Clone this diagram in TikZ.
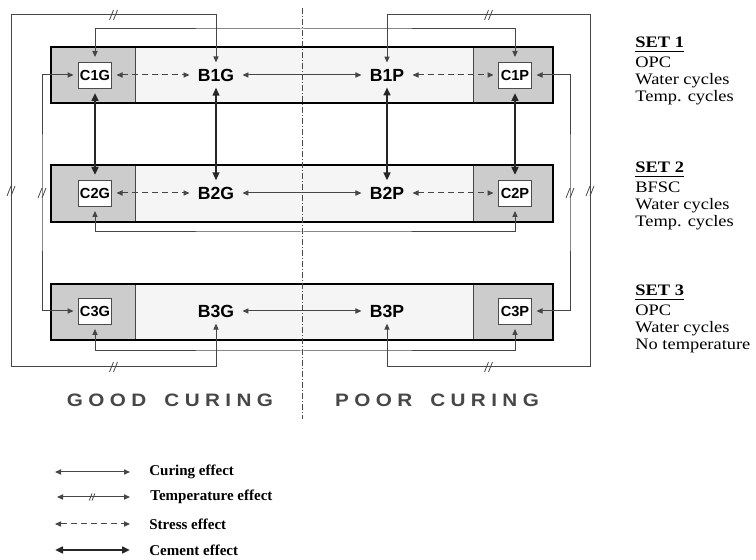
\documentclass[tikz,border=0pt]{standalone}
\usepackage{fontspec}
\setmainfont{Liberation Serif}
\setsansfont{Liberation Sans}
\newfontfamily\setfont[FakeStretch=1.15]{Liberation Serif}
\newfontfamily\curefont[FakeStretch=1.15,LetterSpace=30]{Liberation Sans}
\usetikzlibrary{arrows.meta}
\definecolor{setgray}{RGB}{204,204,204}
\definecolor{setpale}{RGB}{245,245,245}
\definecolor{linkgray}{RGB}{70,70,70}

\begin{document}
\begin{tikzpicture}[x=0.5pt,y=-0.5pt,
  curing/.style={linkgray,line width=0.5pt,
    {Triangle[length=3pt,width=2.6pt]}-{Triangle[length=3pt,width=2.6pt]}},
  temp/.style={curing},
  stress/.style={curing,dash pattern=on 3pt off 2pt},
  cement/.style={black!85,line width=1.1pt,
    {Triangle[length=4pt,width=3.4pt]}-{Triangle[length=4pt,width=3.4pt]}},
  cbox/.style={draw=black!70,fill=white,line width=0.4pt,minimum width=16.5pt,
    minimum height=13pt,inner sep=0.5pt,outer sep=2.5pt,
    font=\sffamily\bfseries\fontsize{7.3}{8}\selectfont},
  bnode/.style={inner xsep=4pt,inner ysep=3pt,
    font=\sffamily\bfseries\fontsize{8.8}{9}\selectfont},
  setlabel/.style={anchor=north west,inner sep=0pt,align=left,
    font=\setfont\fontsize{8}{8.6}\selectfont},
  legtext/.style={anchor=west,inner sep=0pt,
    font=\bfseries\fontsize{7.5}{8}\selectfont},
  curelabel/.style={text=black!72,font=\curefont\bfseries\fontsize{9}{10}\selectfont},
  slash/.pic={\draw[-,solid,linkgray,line width=0.4pt] (-4,5) -- (0,-5) (0,5) -- (4,-5);}]
  \useasboundingbox (0,0) rectangle (756,560);

  \foreach \t/\b in {47/103,165/222,284/340}{
    \fill[setpale] (51,\t) rectangle (553,\b);
    \fill[setgray] (51,\t) rectangle (135,\b) (473,\t) rectangle (553,\b);
    \draw[linkgray,line width=0.4pt] (135,\t) -- (135,\b) (473,\t) -- (473,\b);
    \draw[line width=1.2pt] (51,\t) rectangle (553,\b);
  }
  \draw[black!70,line width=0.4pt,dash pattern=on 3pt off 1pt on 0.5pt off 1pt] (302,8) -- (302,419);

  \node[cbox] (C1G) at (95,75) {C1G};
  \node[cbox] (C2G) at (95,193) {C2G};
  \node[cbox] (C3G) at (95,311) {C3G};
  \node[cbox] (C1P) at (515,75) {C1P};
  \node[cbox] (C2P) at (515,193) {C2P};
  \node[cbox] (C3P) at (515,311) {C3P};
  \node[bnode] (B1G) at (216,75) {B1G};
  \node[bnode] (B2G) at (216,193) {B2G};
  \node[bnode] (B3G) at (216,311) {B3G};
  \node[bnode] (B1P) at (387,75) {B1P};
  \node[bnode] (B2P) at (387,193) {B2P};
  \node[bnode] (B3P) at (387,311) {B3P};

  \draw[stress] (C1G) -- (B1G);
  \draw[stress] (B1P) -- (C1P);
  \draw[stress] (C2G) -- (B2G);
  \draw[stress] (B2P) -- (C2P);
  \draw[curing] (B1G) -- (B1P);
  \draw[curing] (B2G) -- (B2P);
  \draw[curing] (B3G) -- (B3P);
  \draw[cement] (C1G) -- (C2G);
  \draw[cement,line width=0.7pt] (B1G) -- (B2G);
  \draw[cement] (B1P) -- (B2P);
  \draw[cement] (C1P) -- (C2P);
  \draw[curing] (C1G.north) |- (302,29) -| (C1P.north);
  \draw[curing] (C2G.south) |- (302,232) -| (C2P.south);
  \draw[curing] (C3G.south) |- (302,351) -| (C3P.south);
  \draw[temp] (B1G.north) |- (11,15) pic[pos=.75]{slash} -- (11,367) pic[pos=.5]{slash}
    -| (B3G.south) pic[pos=.25]{slash};
  \draw[temp] (B1P.north) |- (590,15) pic[pos=.75]{slash} -- (590,367) pic[pos=.5]{slash}
    -| (B3P.south) pic[pos=.25]{slash};
  \draw[temp] (C1G.west) -| (42,193) pic{slash} |- (C3G.west);
  \draw[temp] (C1P.east) -| (570,193) pic{slash} |- (C3P.east);

  \node[setlabel] (set1) at (635,37) {\underline{\textbf{SET 1}}\\[1.2pt]OPC\\Water cycles\\Temp. cycles};
  \node[setlabel] (set2) at (635,162) {\underline{\textbf{SET 2}}\\[1.2pt]BFSC\\Water cycles\\Temp. cycles};
  \node[setlabel] (set3) at (635,285) {\underline{\textbf{SET 3}}\\[1.2pt]OPC\\Water cycles\\No temperature};

  \node[curelabel] (good) at (170,400) {GOOD\hspace{9pt}CURING};
  \node[curelabel] (poor) at (437,400) {POOR\hspace{9pt}CURING};

  \coordinate (cur1) at (55,472);
  \coordinate (cur2) at (130,472);
  \coordinate (tmp1) at (57,497);
  \coordinate (tmp2) at (130,497);
  \coordinate (str1) at (55,524);
  \coordinate (str2) at (130,524);
  \coordinate (cem1) at (55,550);
  \coordinate (cem2) at (130,550);
  \draw[curing] (cur1) -- (cur2);
  \draw[temp] (tmp1) -- (tmp2) pic[pos=.48,scale=.7]{slash};
  \draw[stress] (str1) -- (str2);
  \draw[cement] (cem1) -- (cem2);
  \node[legtext] (curtxt) at (149,472) {Curing effect};
  \node[legtext] (tmptxt) at (150,497) {Temperature effect};
  \node[legtext] (strtxt) at (149,524) {Stress effect};
  \node[legtext] (cemtxt) at (149,550) {Cement effect};
\end{tikzpicture}
\end{document}
